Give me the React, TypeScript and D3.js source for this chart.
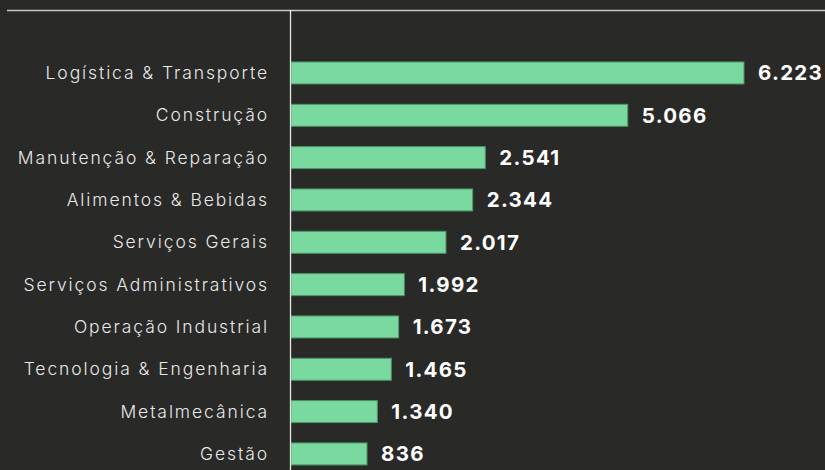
import React from "react";
import * as d3 from "d3";

const categories = [
  "Logística & Transporte",
  "Construção",
  "Manutenção & Reparação",
  "Alimentos & Bebidas",
  "Serviços Gerais",
  "Serviços Administrativos",
  "Operação Industrial",
  "Tecnologia & Engenharia",
  "Metalmecânica",
  "Gestão",
];
// values printed next to bars
const labelValues = [6223, 5066, 2541, 2344, 2017, 1992, 1673, 1465, 1340, 836];
// bar lengths as drawn in the reference (same units)
const barValues = [6223, 4626, 2669, 2496, 2129, 1557, 1479, 1378, 1186, 1044];

const W = 825;
const H = 470;
const X0 = 291;

const fmt = (v: number) => d3.format(",")(v).replace(/,/g, ".");

export default function App() {
  const x = d3.scaleLinear().domain([0, 6223]).range([X0, 744]);
  const y = d3
    .scaleBand<string>()
    .domain(categories)
    .range([51.8, 475.1])
    .paddingInner(0.48)
    .paddingOuter(0.24);
  const bh = y.bandwidth();
  return (
    <svg
      width={W}
      height={H}
      style={{ position: "absolute", left: 0, top: 0, background: "#292927" }}
    >
      <rect x={0} y={0} width={W} height={H} fill="#292927" />
      <line x1={7} x2={W} y1={10.5} y2={10.5} stroke="#c9c9c9" strokeWidth={1.3} />
      {categories.map((c, i) => {
        const yy = y(c)!;
        const cy = yy + bh / 2;
        return (
          <g key={c}>
            <rect
              x={X0}
              y={yy}
              width={x(barValues[i]) - X0}
              height={bh}
              fill="#79d99e"
              stroke="#4c9467"
              strokeWidth={1}
            />
            <text
              x={269}
              y={cy}
              dy="0.34em"
              textAnchor="end"
              fill="#e8e8e8"
              fontFamily="Inter, sans-serif"
              fontWeight={300}
              fontSize={17.5}
              letterSpacing={1.9}
            >
              {c}
            </text>
            <text
              x={x(barValues[i]) + 14}
              y={cy}
              dy="0.36em"
              textAnchor="start"
              fill="#ffffff"
              fontFamily="Inter, sans-serif"
              fontWeight={700}
              fontSize={20.5}
              letterSpacing={1.3}
            >
              {fmt(labelValues[i])}
            </text>
          </g>
        );
      })}
      <line x1={290.5} x2={290.5} y1={10} y2={H} stroke="#e6e6e6" strokeWidth={1.3} />
    </svg>
  );
}
